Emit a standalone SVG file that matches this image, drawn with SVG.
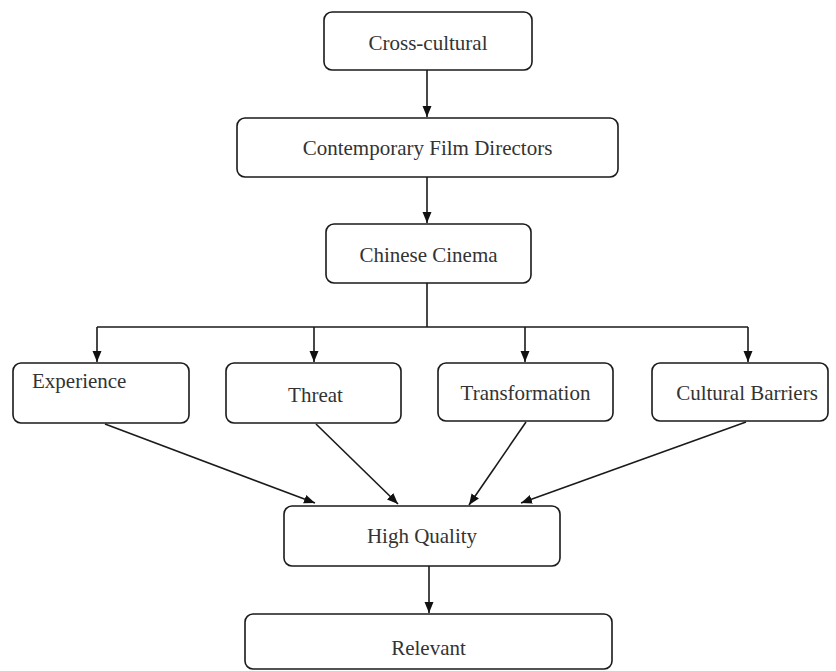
<svg xmlns="http://www.w3.org/2000/svg" width="836" height="671" viewBox="0 0 836 671">
<defs>
<marker id="arr" markerUnits="userSpaceOnUse" markerWidth="11" markerHeight="10" refX="11" refY="5" orient="auto">
<path d="M0,0.5 L11,5 L0,9.5 z" fill="#111"/>
</marker>
<style>
.box{fill:#fff;stroke:#1a1a1a;stroke-width:1.6}
.lbl{font-family:"Liberation Serif","Times New Roman",serif;font-size:21px;fill:#333;text-anchor:middle}
.edge{fill:none;stroke:#1a1a1a;stroke-width:1.6}
</style>
</defs>
<rect width="836" height="671" fill="#fff"/>
<g id="connectors">
<line class="edge" x1="427" y1="70" x2="427" y2="117" marker-end="url(#arr)"/>
<line class="edge" x1="427" y1="177" x2="427" y2="223" marker-end="url(#arr)"/>
<polyline class="edge" points="427,283 427,327"/>
<polyline class="edge" points="97,327 748,327"/>
<line class="edge" x1="97" y1="327" x2="97" y2="362" marker-end="url(#arr)"/>
<line class="edge" x1="314" y1="327" x2="314" y2="362" marker-end="url(#arr)"/>
<line class="edge" x1="525" y1="327" x2="525" y2="362" marker-end="url(#arr)"/>
<line class="edge" x1="748" y1="327" x2="748" y2="362" marker-end="url(#arr)"/>
<line class="edge" x1="105" y1="424" x2="315" y2="503" marker-end="url(#arr)"/>
<line class="edge" x1="316" y1="424" x2="398" y2="504" marker-end="url(#arr)"/>
<line class="edge" x1="526" y1="422" x2="469" y2="505" marker-end="url(#arr)"/>
<line class="edge" x1="746" y1="422" x2="521" y2="503" marker-end="url(#arr)"/>
<line class="edge" x1="429" y1="566" x2="429" y2="613" marker-end="url(#arr)"/>
</g>
<g id="n-cross">
<rect class="box" x="324" y="12" width="208" height="58" rx="8"/>
<text class="lbl" x="428" y="50">Cross-cultural</text>
</g>
<g id="n-directors">
<rect class="box" x="237" y="118" width="381" height="59" rx="8"/>
<text class="lbl" x="427.5" y="155">Contemporary Film Directors</text>
</g>
<g id="n-chinese">
<rect class="box" x="326" y="224" width="205" height="59" rx="8"/>
<text class="lbl" x="428.5" y="262">Chinese Cinema</text>
</g>
<g id="n-experience">
<rect class="box" x="13" y="363" width="176" height="60" rx="8"/>
<text class="lbl" x="32" y="388" style="text-anchor:start">Experience</text>
</g>
<g id="n-threat">
<rect class="box" x="226" y="363" width="175" height="60" rx="8"/>
<text class="lbl" x="315.5" y="402">Threat</text>
</g>
<g id="n-transformation">
<rect class="box" x="438" y="363" width="175" height="58" rx="8"/>
<text class="lbl" x="525.5" y="400">Transformation</text>
</g>
<g id="n-barriers">
<rect class="box" x="652" y="363" width="176" height="58" rx="8"/>
<text class="lbl" x="747" y="400">Cultural Barriers</text>
</g>
<g id="n-quality">
<rect class="box" x="284" y="506" width="276" height="60" rx="8"/>
<text class="lbl" x="422" y="543">High Quality</text>
</g>
<g id="n-relevant">
<rect class="box" x="245" y="614" width="367" height="55" rx="8"/>
<text class="lbl" x="428.5" y="655">Relevant</text>
</g>
</svg>
